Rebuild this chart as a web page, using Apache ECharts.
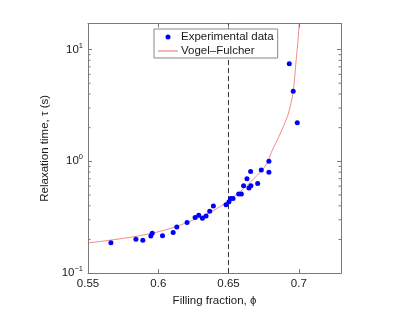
<!DOCTYPE html>
<html><head><meta charset="utf-8">
<script src="https://cdn.jsdelivr.net/npm/echarts@6/dist/echarts.min.js"></script>
<style>html,body{margin:0;padding:0;background:#fff}#c{width:415px;height:312px}</style>
</head><body><div id="c"></div>
<script>
// Experimental data (filling fraction phi, relaxation time tau)
const phiData = [0.5663,0.5841,0.5890,0.5947,0.5957,0.6030,0.6106,0.6132,0.6205,0.6262,0.6288,0.6314,0.6340,0.6366,0.6392,0.6482,0.6503,0.6515,0.6532,0.6572,0.6591,0.6607,0.6631,0.6645,0.6659,0.6657,0.6707,0.6733,0.6787,0.6787,0.6932,0.6960,0.6989];
const tauData = [0.187,0.201,0.197,0.215,0.227,0.216,0.231,0.258,0.284,0.314,0.329,0.310,0.324,0.357,0.398,0.409,0.435,0.465,0.465,0.511,0.511,0.605,0.698,0.578,0.605,0.809,0.634,0.838,1.00,0.80,7.48,4.23,2.21];
// Vogel-Fulcher curve
const phiFit = [0.550,0.567,0.585,0.605,0.620,0.630,0.639,0.645,0.651,0.657,0.6627,0.668,0.6733,0.6775,0.6804,0.6835,0.6863,0.6895,0.6922,0.6945,0.6960,0.6970,0.6979,0.6992,0.7003];
const tauFit = [0.186,0.198,0.214,0.243,0.282,0.318,0.362,0.400,0.455,0.520,0.600,0.700,0.816,0.97,1.20,1.45,1.72,2.12,2.58,3.35,4.23,5.5,7.6,11.2,17.2];
const phiMarker = 0.65;
const xMin = 0.55, xMax = 0.73, xStep = 0.05;
const yMin = 0.1, yMax = 17.1;
const yMinorTicks = [0.2,0.3,0.4,0.5,0.6,0.7,0.8,0.9,2,3,4,5,6,7,8,9];
const seriesNames = ['Experimental data','Vogel\u2013Fulcher'];
const xTitle = 'Filling fraction, \u03d5';
const yTitle = 'Relaxation time, \u03c4 (s)';

const FONT = '"Liberation Sans", Arial, sans-serif';
const AX = '#7a7a7a';
const TXT = '#1a1a1a';
const RED = 'rgba(235,60,60,0.75)';

const chart = echarts.init(document.getElementById('c'), null, {renderer:'canvas'});
const xBase = {
  type:'value', min:xMin, max:xMax, interval:xStep,
  splitLine:{show:false},
  axisLine:{show:true, lineStyle:{color:AX, width:1}},
  axisTick:{show:true, inside:true, length:4, lineStyle:{color:AX}},
};
const yBase = {
  type:'log', logBase:10, min:yMin, max:yMax,
  splitLine:{show:false},
  axisLine:{show:true, lineStyle:{color:AX, width:1}},
  axisTick:{show:true, inside:true, length:4, lineStyle:{color:AX}},
};
chart.setOption({
  animation:false,
  backgroundColor:'#fff',
  textStyle:{fontFamily:FONT},
  grid:{left:88, right:74, top:23.5, bottom:35.5, containLabel:false},
  legend:{
    z:100, zlevel:0,
    data:[
      {name:seriesNames[0], icon:'circle'},
      {name:seriesNames[1], icon:'path://M0,0L0.01,0L0.01,0.01L0,0.01ZM0,2.1L20,2.1L20,2.9L0,2.9ZM0,4.99L0.01,4.99L0.01,5L0,5Z', itemStyle:{color:RED}}
    ],
    orient:'vertical', left:154, top:29,
    itemWidth:20, itemHeight:5, itemGap:2,
    padding:[2,4,1,4],
    backgroundColor:'#fff', borderColor:'#888', borderWidth:1,
    textStyle:{fontFamily:FONT, fontSize:11.5, color:TXT, padding:[0,0,0,-2]},
    selectedMode:false
  },
  xAxis:[
    Object.assign({}, xBase, {position:'bottom',
      name:xTitle, nameLocation:'middle', nameGap:15,
      nameTextStyle:{fontFamily:FONT, fontSize:11.5, color:TXT},
      axisLabel:{show:true, margin:5, fontFamily:FONT, fontSize:11.5, color:TXT, showMaxLabel:false}}),
    Object.assign({}, xBase, {position:'top', axisLabel:{show:false}})
  ],
  yAxis:[
    Object.assign({}, yBase, {position:'left',
      name:yTitle, nameLocation:'middle', nameGap:28,
      nameTextStyle:{fontFamily:FONT, fontSize:11.5, color:TXT},
      axisLabel:{show:true, margin:5, showMaxLabel:false,
        formatter:function(v){ const e = Math.round(Math.log10(v)); return '{b|10}{s|' + (e<0?'\u2212'+(-e):e) + '}'; },
        rich:{b:{fontFamily:FONT, fontSize:11.5, color:TXT}, s:{fontFamily:FONT, fontSize:7.5, color:TXT, padding:[0,0,8,0]}}}}),
    Object.assign({}, yBase, {position:'right', axisLabel:{show:false}})
  ],
  series:[
    {
      name:seriesNames[1], type:'line', xAxisIndex:0, yAxisIndex:0,
      data:phiFit.map((p,i)=>[p,tauFit[i]]),
      symbol:'none', showSymbol:false, smooth:0.3, clip:true,
      lineStyle:{color:RED, width:0.8},
      itemStyle:{color:RED},
      markLine:{
        silent:true, symbol:'none', label:{show:false}, z:1,
        lineStyle:{color:'#333', type:[5,3], width:1},
        data:[{xAxis:phiMarker}]
      },
      z:2
    },
    {
      name:seriesNames[0], type:'scatter', xAxisIndex:0, yAxisIndex:0,
      data:phiData.map((p,i)=>[p,tauData[i]]),
      symbol:'circle', symbolSize:5,
      itemStyle:{color:'#0000ff', opacity:1},
      z:3
    },
    {
      type:'custom', xAxisIndex:0, yAxisIndex:0, silent:true,
      data:yMinorTicks.map(v=>[xMin, v]),
      renderItem:function(params, api){
        const cs = params.coordSys;
        const y = api.coord([xMin, api.value(1)])[1];
        const st = {stroke:AX, lineWidth:1};
        return {type:'group', children:[
          {type:'line', shape:{x1:cs.x, y1:y, x2:cs.x+2.5, y2:y}, style:st},
          {type:'line', shape:{x1:cs.x+cs.width, y1:y, x2:cs.x+cs.width-2.5, y2:y}, style:st}
        ]};
      },
      z:1
    }
  ]
});
</script>
</body></html>
